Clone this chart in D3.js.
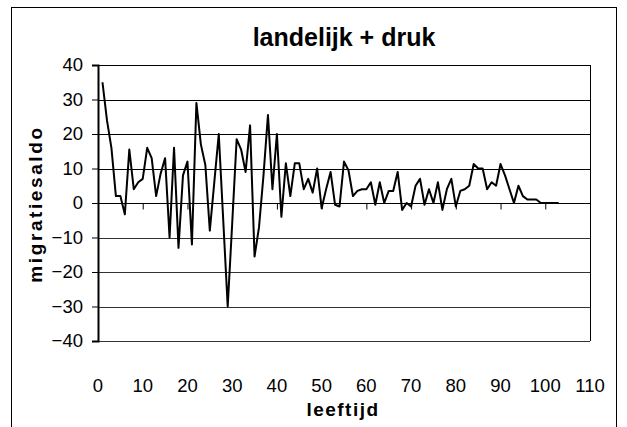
<!DOCTYPE html>
<html>
<head>
<meta charset="utf-8">
<script src="https://cdn.jsdelivr.net/npm/d3@7"></script>
<style>
  body { margin: 0; background: #fff; }
  text { font-family: "Liberation Sans", Arial, sans-serif; }
</style>
</head>
<body>
<svg id="chart" width="627" height="427"></svg>
<script>
const ages = [1,2,3,4,5,6,7,8,9,10,11,12,13,14,15,16,17,18,19,20,
  21,22,23,24,25,26,27,28,29,30,31,32,33,34,35,36,37,38,39,40,
  41,42,43,44,45,46,47,48,49,50,51,52,53,54,55,56,57,58,59,60,
  61,62,63,64,65,66,67,68,69,70,71,72,73,74,75,76,77,78,79,80,
  81,82,83,84,85,86,87,88,89,90,91,92,93,94,95,96,97,98,99,100,
  101,102,103];
const saldo = [35,24,16,2,2,-3.3,15.5,4,6,7,16,13,2,8.5,13,-10,16,-13,8,12,
  -12,29,17,11,-8,6,20,-5,-30,-6,18.5,15.5,9,22.5,-15.5,-7,8,25.5,4,20,
  -4,11.5,2,11.5,11.5,4,7,3,10,-1.5,4,9,-0.5,-1,12,9.5,2,3.5,4,4,
  6,-0.5,6,0,3.5,3.5,9,-2,0,-1,5,7,-0.5,4,0,6,-2,4,7,-1,
  3.5,4,5,11.3,10,10,4,6,5,11.3,8,4,0,5,2,1,1,1,0,0,
  0,0,0];
const xTicks = [0,10,20,30,40,50,60,70,80,90,100,110];
const yTicks = [-40,-30,-20,-10,0,10,20,30,40];

const svg = d3.select('#chart');
const plotLeft = 98, plotRight = 590, plotTop = 65, plotBottom = 341;

const x = d3.scaleLinear().domain([0, 110]).range([plotLeft, plotRight]);
const y = d3.scaleLinear().domain([-40, 40]).range([plotBottom, plotTop]);

// outer frame
svg.append('rect')
  .attr('x', 11.5).attr('y', 7.5)
  .attr('width', 605).attr('height', 440)
  .attr('fill', 'none').attr('stroke', '#000').attr('stroke-width', 1);

// gridlines
svg.append('g')
  .selectAll('line')
  .data(yTicks)
  .enter()
  .append('line')
  .attr('x1', plotLeft).attr('x2', plotRight)
  .attr('y1', d => Math.round(y(d)) + 0.5)
  .attr('y2', d => Math.round(y(d)) + 0.5)
  .attr('stroke', d => d < 0 ? '#333' : '#000');

// right border of plot
svg.append('line')
  .attr('x1', plotRight + 0.5).attr('x2', plotRight + 0.5)
  .attr('y1', plotTop).attr('y2', plotBottom)
  .attr('stroke', '#000');

// y axis
const yAxis = svg.append('g')
  .attr('transform', `translate(${plotLeft},0)`)
  .call(d3.axisLeft(y).tickValues(yTicks).tickSize(6).tickPadding(9).tickFormat(d3.format('d')));
yAxis.select('.domain').attr('stroke', '#000').attr('stroke-width', 2);
yAxis.selectAll('text').style('font-size', '18.5px').attr('fill', '#000')
  .style('font-family', '"Liberation Sans", Arial, sans-serif');

// x axis line at zero, ticks only
const xAxis = svg.append('g')
  .attr('transform', `translate(0,${Math.round(y(0)) + 0.5})`)
  .call(d3.axisBottom(x).tickValues(xTicks).tickSize(6).tickFormat(''));
xAxis.select('.domain').remove();

// x tick labels at the bottom
svg.append('g')
  .selectAll('text')
  .data(xTicks)
  .enter()
  .append('text')
  .attr('x', d => x(d))
  .attr('y', 392)
  .attr('text-anchor', 'middle')
  .style('font-size', '18.5px')
  .text(d => d);

// data line
const line = d3.line()
  .x((d, i) => x(ages[i]))
  .y(d => y(d));

svg.append('path')
  .datum(saldo)
  .attr('fill', 'none')
  .attr('stroke', '#000')
  .attr('stroke-width', 2)
  .attr('stroke-linejoin', 'round')
  .attr('d', line);

// title
svg.append('text')
  .attr('x', 344).attr('y', 46)
  .attr('text-anchor', 'middle')
  .style('font-size', '25px').style('font-weight', 'bold')
  .text('landelijk + druk');

// axis titles
svg.append('text')
  .attr('x', 343).attr('y', 416)
  .attr('text-anchor', 'middle')
  .style('font-size', '19px').style('font-weight', 'bold')
  .style('letter-spacing', '1.5px')
  .text('leeftijd');

svg.append('text')
  .attr('transform', 'translate(42,204) rotate(-90)')
  .attr('text-anchor', 'middle')
  .style('font-size', '19px').style('font-weight', 'bold')
  .style('letter-spacing', '2.6px')
  .text('migratiesaldo');
</script>
</body>
</html>
